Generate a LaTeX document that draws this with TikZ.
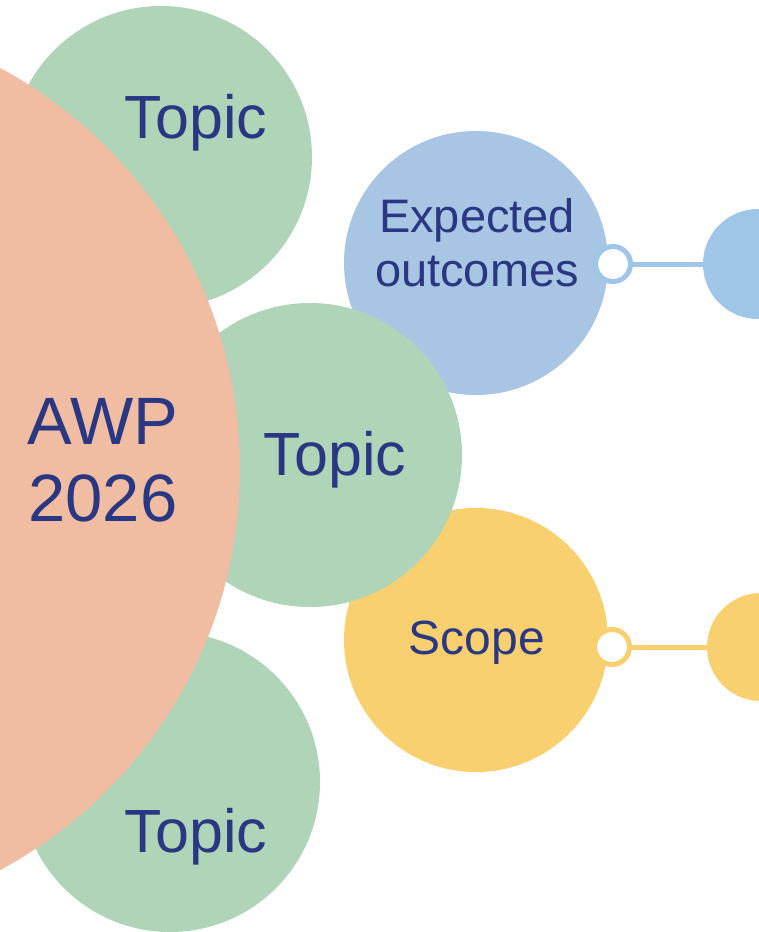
\documentclass[tikz,border=0pt]{standalone}
\usepackage{fontspec}
\setmainfont{Liberation Sans}
\usetikzlibrary{positioning}
\definecolor{awp}{HTML}{F0BDA3}
\definecolor{topic}{HTML}{AFD4B7}
\definecolor{outc}{HTML}{A8C5E3}
\definecolor{outcleaf}{HTML}{9FC5E8}
\definecolor{scope}{HTML}{F8D070}
\definecolor{ink}{HTML}{2A3782}
\newcommand{\fsz}[2]{\fontsize{#1bp}{#2bp}\selectfont}

\begin{document}
\begin{tikzpicture}[x=1bp,y=-1bp,
  bubble/.style={circle,inner sep=0pt,minimum size=#1},
  ring/.style={circle,draw=#1,fill=white,line width=5bp,inner sep=0pt,minimum size=35bp},
  link/.style={draw=#1,line width=5bp},
  txt/.style={text=ink,inner sep=0pt,align=center}]
  \useasboundingbox (0,0) rectangle (759,932);
  \node[bubble=264bp,fill=outc] (outc) at (476,263) {};
  \node[bubble=264bp,fill=scope] (scope) at (476,640) {};
  \node[bubble=110bp,fill=outcleaf] (outcleaf) at (758,264) {};
  \node[bubble=108bp,fill=scope] (scopeleaf) at (761,647) {};
  \node[ring=outcleaf] (outcring) at (613,264) {};
  \node[ring=scope] (scopering) at (612,647) {};
  \path[link=outcleaf] (outcring) -- (outcleaf);
  \path[link=scope] (scopering) -- (scopeleaf);
  \node[bubble=304bp,fill=topic] (topicm) at (310,455) {};
  \node[bubble=302bp,fill=topic] (topict) at (161,157) {};
  \node[bubble=300bp,fill=topic] (topicb) at (170,782) {};
  \node[bubble=910bp,fill=awp] (awp) at (-215,469) {};
  \node[txt,font=\fsz{67}{77}] (awp-t) at (103,460) {AWP\\2026};
  \node[txt,font=\fsz{61}{70},anchor=base] (topict-t) at (196,138) {Topic};
  \node[txt,font=\fsz{61}{70},anchor=base] (topicm-t) at (335,475) {Topic};
  \node[txt,font=\fsz{61}{70},anchor=base] (topicb-t) at (196,852) {Topic};
  \node[txt,font=\fsz{47}{54}] (outc-t) at (477,243) {Expected\\outcomes};
  \node[txt,font=\fsz{48}{54},anchor=base] (scope-t) at (477,654) {Scope};
\end{tikzpicture}
\end{document}
